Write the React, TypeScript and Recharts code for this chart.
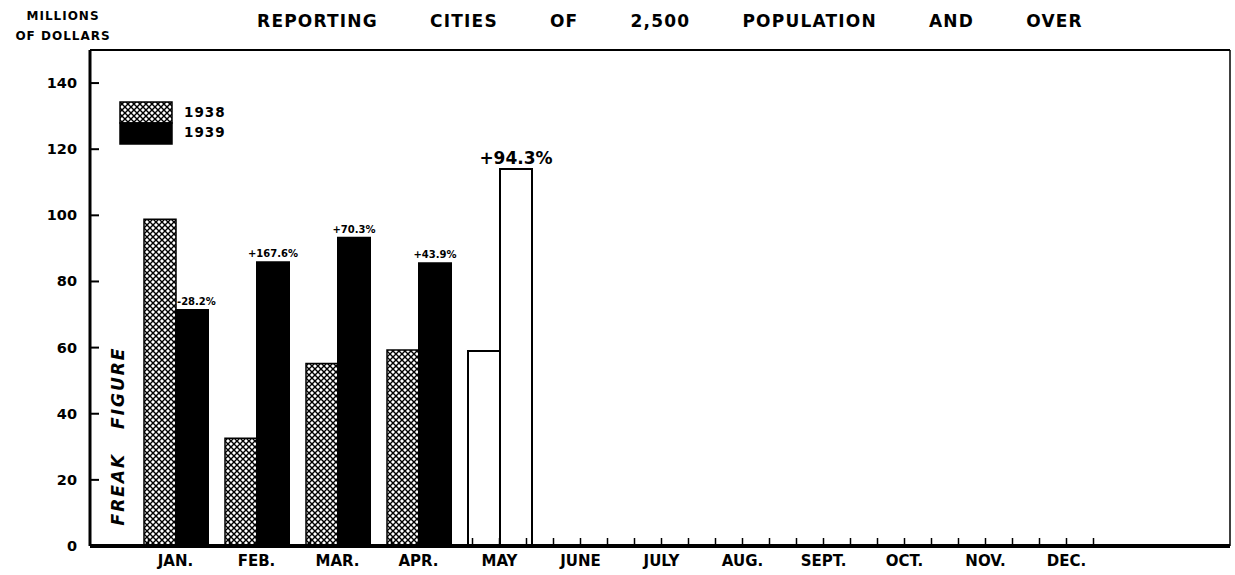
import { BarChart, Bar, XAxis, YAxis, Legend, LabelList, Cell } from "recharts";

const months = ["JAN.", "FEB.", "MAR.", "APR.", "MAY", "JUNE", "JULY", "AUG.", "SEPT.", "OCT.", "NOV.", "DEC."];
const values1938 = [98.8, 32.6, 55.2, 59.3, 59.0, null, null, null, null, null, null, null];
const values1939 = [71.4, 85.8, 93.2, 85.5, 114.0, null, null, null, null, null, null, null];
const changeLabels = ["-28.2%", "+167.6%", "+70.3%", "+43.9%", "+94.3%", "", "", "", "", "", "", ""];
// May figures are preliminary, drawn as open bars
const preliminary = [false, false, false, false, true, false, false, false, false, false, false, false];
const yTicks = [0, 20, 40, 60, 80, 100, 120, 140];

const FONT = "'DejaVu Sans', 'Liberation Sans', sans-serif";
const HATCH = "url(#xhatch)";

const data = months.map((m, i) => ({
  month: m,
  y1938: values1938[i],
  y1939: values1939[i],
  change: changeLabels[i],
}));

const YTick = ({ x, y, payload }: any) => (
  <g>
    <line x1={x} x2={x + 9} y1={y} y2={y} stroke="#000" strokeWidth={2} />
    <text x={x - 13} y={y} dy={5} textAnchor="end" fontSize={14.5} fontWeight="bold" fontFamily={FONT} fill="#000">
      {payload.value}
    </text>
  </g>
);

const XTick = ({ x, y, payload }: any) => (
  <g>
    {[-27, 0, 27].map((d) => (
      <line key={d} x1={x + d} x2={x + d} y1={y} y2={y - 8} stroke="#000" strokeWidth={1.5} />
    ))}
    <text x={x} y={y + 20} textAnchor="middle" fontSize={15} fontWeight="bold" fontFamily={FONT} fill="#000">
      {payload.value}
    </text>
  </g>
);

const ChangeLabel = (props: any) => {
  const { x, y, width, value, index } = props;
  if (!value) return null;
  const big = preliminary[index];
  const neg = String(value).startsWith("-");
  return (
    <text
      x={neg ? x + 1 : x + width / 2}
      y={y - 5}
      textAnchor={neg ? "start" : "middle"}
      fontSize={big ? 17 : 10}
      fontWeight="bold"
      fontFamily={FONT}
      fill="#000"
    >
      {value}
    </text>
  );
};

const renderLegend = (props: any) => (
  <svg width={130} height={46}>
    {props.payload.map((entry: any, i: number) => (
      <g key={entry.value}>
        <rect x={1} y={1 + i * 21} width={52} height={21} fill={entry.color} stroke="#000" strokeWidth={1.5} />
        <text x={65} y={16 + i * 20} fontSize={13.5} fontWeight="bold" fontFamily={FONT} fill="#000" letterSpacing={1}>
          {entry.value}
        </text>
      </g>
    ))}
  </svg>
);

export default function App() {
  return (
    <div style={{ position: "absolute", left: 0, top: 0, width: 1235, height: 575, background: "#fff", fontFamily: FONT }}>
      <div style={{ position: "absolute", left: 4, top: 6, width: 118, textAlign: "center", fontSize: 12, fontWeight: "bold", lineHeight: "20px", letterSpacing: 1 }}>
        MILLIONS
        <br />
        OF DOLLARS
      </div>
      <div style={{ position: "absolute", left: 0, width: 1340, top: 11, textAlign: "center", fontSize: 17, fontWeight: "bold", letterSpacing: 1.2, wordSpacing: 45, whiteSpace: "nowrap" }}>
        REPORTING CITIES OF 2,500 POPULATION AND OVER
      </div>
      <BarChart width={1235} height={575} data={data} margin={{ top: 49, right: 4, bottom: 0, left: 0 }} barSize={32} barGap={0}>
        <defs>
          <pattern id="xhatch" patternUnits="userSpaceOnUse" width={6} height={6}>
            <rect width={6} height={6} fill="#fff" />
            <path d="M0,0 L6,6 M6,0 L0,6" stroke="#000" strokeWidth={1.4} />
          </pattern>
        </defs>
        <XAxis
          dataKey="month"
          height={29}
          padding={{ left: 45, right: 123 }}
          axisLine={{ stroke: "#000", strokeWidth: 4 }}
          tickLine={false}
          tickSize={0}
          tickMargin={0}
          interval={0}
          tick={<XTick />}
        />
        <XAxis xAxisId="top" dataKey="month" orientation="top" height={1} tick={false} tickLine={false} axisLine={{ stroke: "#000", strokeWidth: 2 }} />
        <YAxis
          width={90}
          domain={[0, 150]}
          ticks={yTicks}
          allowDataOverflow
          axisLine={{ stroke: "#000", strokeWidth: 3 }}
          tickLine={false}
          tickSize={0}
          tickMargin={0}
          tick={<YTick />}
        />
        <YAxis yAxisId="r" orientation="right" width={1} domain={[0, 150]} tick={false} tickLine={false} axisLine={{ stroke: "#000", strokeWidth: 1.5 }} />
        <Legend
          layout="vertical"
          align="center"
          verticalAlign="middle"
          content={renderLegend}
          wrapperStyle={{ left: 119, top: 101, width: 130, height: 46 }}
        />
        <Bar dataKey="y1938" name="1938" fill={HATCH} stroke="#000" strokeWidth={1.5} isAnimationActive={false}>
          {preliminary.map((p, i) => (
            <Cell key={i} fill={p ? "#fff" : HATCH} stroke="#000" strokeWidth={p ? 2 : 1.5} />
          ))}
        </Bar>
        <Bar dataKey="y1939" name="1939" fill="#000" stroke="#000" strokeWidth={1.5} isAnimationActive={false}>
          {preliminary.map((p, i) => (
            <Cell key={i} fill={p ? "#fff" : "#000"} stroke="#000" strokeWidth={2} />
          ))}
          <LabelList dataKey="change" content={<ChangeLabel />} />
        </Bar>
      </BarChart>
      <div
        style={{
          position: "absolute",
          left: 118,
          top: 436,
          transform: "translate(-50%, -50%) rotate(-90deg)",
          whiteSpace: "nowrap",
          fontSize: 17,
          fontWeight: "bold",
          fontStyle: "italic",
          letterSpacing: 2,
          wordSpacing: 16,
        }}
      >
        FREAK FIGURE
      </div>
    </div>
  );
}
